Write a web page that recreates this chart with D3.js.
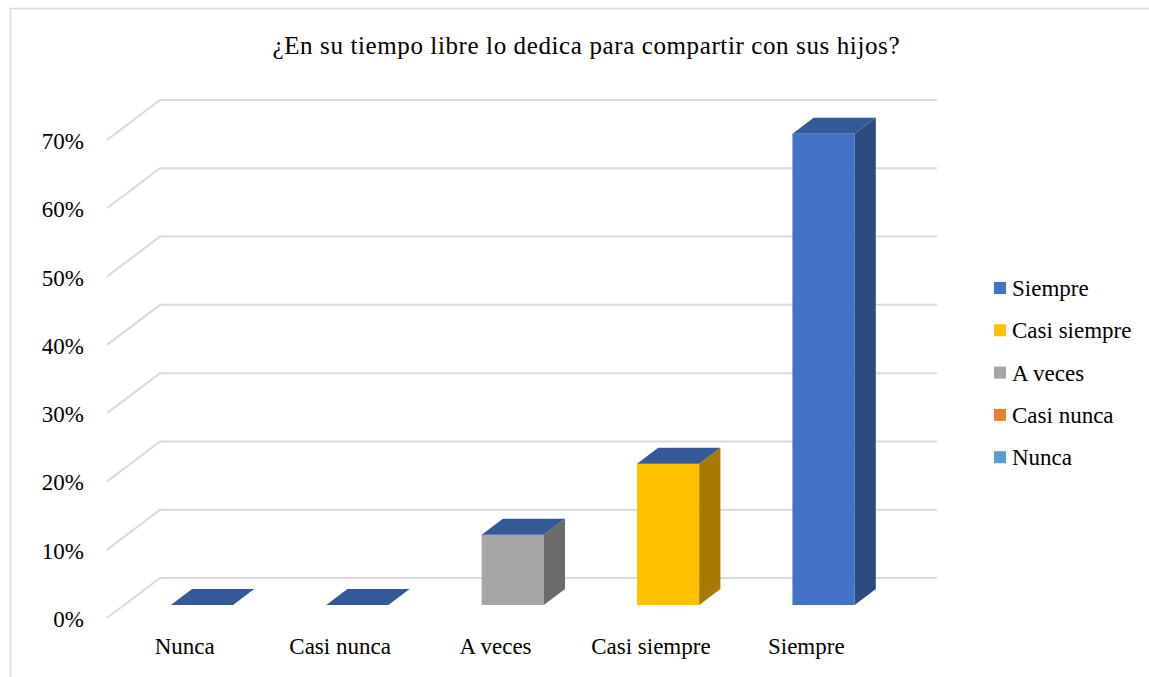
<!DOCTYPE html>
<html>
<head>
<meta charset="utf-8">
<script src="https://cdn.jsdelivr.net/npm/d3@7"></script>
<style>
  body { margin: 0; background: #fff; }
</style>
</head>
<body>
<div id="main"></div>
<script>
// datos del gráfico
var categories = ['Nunca', 'Casi nunca', 'A veces', 'Casi siempre', 'Siempre'];
var values = [0, 0, 10.3, 20.7, 69.0];
var ticks = [0, 10, 20, 30, 40, 50, 60, 70];
var frontColors = ['#5B9BD5', '#ED7D31', '#A5A5A5', '#FFC000', '#4472C4'];
var sideColors = ['#3F6F9A', '#A95A23', '#6B6B6B', '#A67C00', '#2E4B80'];
var topColor = '#335A96';
var legendOrder = ['Siempre', 'Casi siempre', 'A veces', 'Casi nunca', 'Nunca'];
var title = '¿En su tiempo libre lo dedica para compartir con sus hijos?';

var FONT = "'Liberation Serif', 'Times New Roman', 'DejaVu Serif', serif";
var W = 1149, H = 677;
var svg = d3.select('#main').append('svg').attr('width', W).attr('height', H)
    .attr('font-family', FONT).attr('font-size', 23);

// marco
svg.append('path')
    .attr('d', 'M10.5,' + H + ' V8.5 H' + W)
    .attr('fill', 'none').attr('stroke', '#d9d9d9').attr('stroke-width', 1.5);

svg.append('text')
    .attr('x', 586).attr('y', 54)
    .attr('text-anchor', 'middle')
    .attr('font-size', 25)
    .attr('textLength', 627)
    .attr('lengthAdjust', 'spacing')
    .text(title);

// profundidad 3D
var depthX = 53, depthY = -40;
var frontX0 = 107, frontX1 = 884;

var y = d3.scaleLinear().domain([0, 70]).range([578, 100]); // pared de fondo

var x = d3.scaleBand().domain(categories).range([frontX0, frontX1])
    .paddingInner(0.6).paddingOuter(0.3);

// líneas de cuadrícula
var grid = svg.append('g');
grid.selectAll('path').data(ticks).enter().append('path')
    .attr('d', function (d) {
        var yb = y(d);
        return 'M' + frontX0 + ',' + (yb - depthY) + ' L' + (frontX0 + depthX) + ',' + yb + ' H' + (frontX1 + depthX);
    })
    .attr('fill', 'none').attr('stroke', '#d9d9d9').attr('stroke-width', 2);

grid.selectAll('text').data(ticks).enter().append('text')
    .attr('x', 84)
    .attr('y', function (d) { return y(d) - depthY + 1; })
    .attr('dy', '0.35em')
    .attr('text-anchor', 'end')
    .text(function (d) { return d + '%'; });

// barras
var f1 = 0.325, f2 = 0.725;
var bars = svg.append('g');
categories.forEach(function (c, i) {
    var h = y(0) - y(values[i]);
    var x0 = x(c) + f1 * depthX, x1 = x0 + x.bandwidth();
    var yb = y(0) - depthY + f1 * depthY;
    var yt = yb - h;
    var ddx = (f2 - f1) * depthX, ddy = (f2 - f1) * depthY;
    var g = bars.append('g');
    if (h > 0) {
        g.append('rect')
            .attr('x', x0).attr('y', yt).attr('width', x1 - x0).attr('height', h)
            .attr('fill', frontColors[i]);
        g.append('path')
            .attr('d', 'M' + x1 + ',' + yb + ' L' + x1 + ',' + yt + ' L' + (x1 + ddx) + ',' + (yt + ddy) +
                ' L' + (x1 + ddx) + ',' + (yb + ddy) + 'Z')
            .attr('fill', sideColors[i]);
    }
    g.append('path')
        .attr('d', 'M' + x0 + ',' + yt + ' L' + x1 + ',' + yt + ' L' + (x1 + ddx) + ',' + (yt + ddy) +
            ' L' + (x0 + ddx) + ',' + (yt + ddy) + 'Z')
        .attr('fill', topColor);
});

// etiquetas del eje x
svg.append('g').selectAll('text').data(categories).enter().append('text')
    .attr('x', function (d) { return x(d) + x.bandwidth() / 2; })
    .attr('y', 654)
    .attr('text-anchor', 'middle')
    .text(function (d) { return d; });

// leyenda
var legend = svg.append('g').selectAll('g').data(legendOrder).enter().append('g')
    .attr('transform', function (d, i) { return 'translate(994,' + (288 + i * 42.3) + ')'; });
legend.append('rect')
    .attr('x', 0).attr('y', -6).attr('width', 12).attr('height', 12)
    .attr('fill', function (d) { return frontColors[categories.indexOf(d)]; });
legend.append('text')
    .attr('x', 18).attr('dy', '0.35em')
    .text(function (d) { return d; });
</script>
</body>
</html>
